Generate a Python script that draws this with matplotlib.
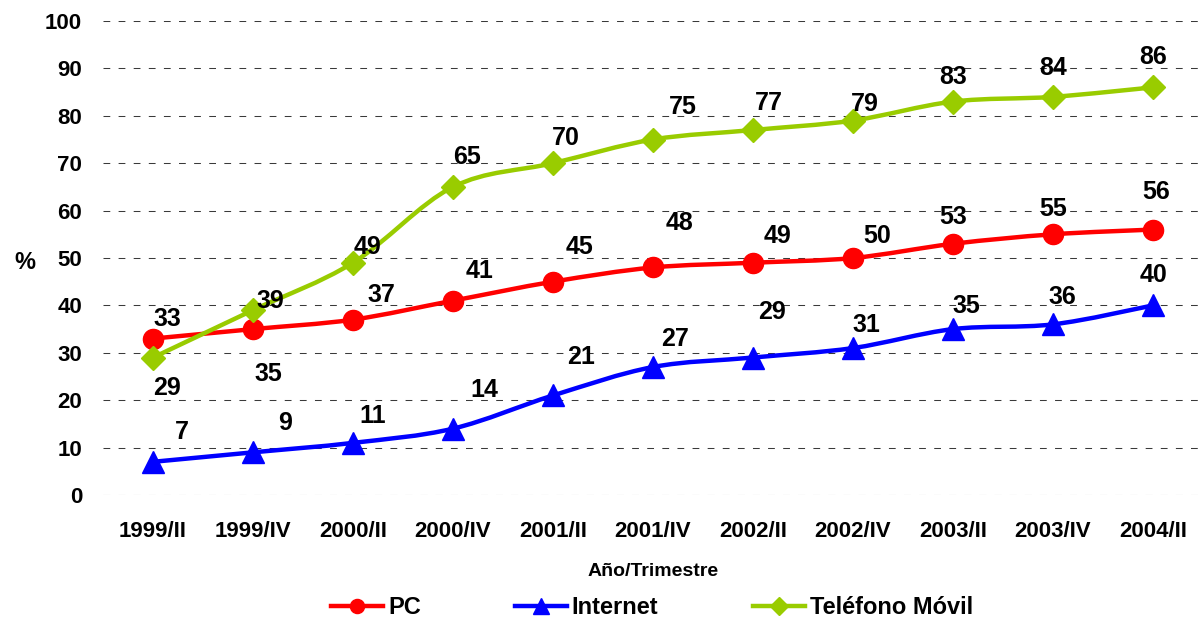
import matplotlib
matplotlib.use("Agg")
import matplotlib.pyplot as plt
from matplotlib.path import Path
from matplotlib.patches import PathPatch
from matplotlib.lines import Line2D

categories = ["1999/II", "1999/IV", "2000/II", "2000/IV", "2001/II", "2001/IV",
              "2002/II", "2002/IV", "2003/II", "2003/IV", "2004/II"]
pc = [33, 35, 37, 41, 45, 48, 49, 50, 53, 55, 56]
internet = [7, 9, 11, 14, 21, 27, 29, 31, 35, 36, 40]
movil = [29, 39, 49, 65, 70, 75, 77, 79, 83, 84, 86]

# label offsets in pixels (dx, dy-up)
pc_off = [(14, 20), (15, -45), (28, 25), (27, 30), (27, 35), (27, 44), (25, 27), (24, 22), (0, 27), (0, 25), (3, 38)]
movil_off = [(14, -30), (17, 9), (14, 16), (14, 30), (13, 25), (30, 33), (16, 27), (12, 17), (0, 25), (0, 29), (0, 30)]
int_off = [(29, 30), (32, 29), (20, 27), (31, 39), (28, 38), (22, 28), (19, 46), (13, 23), (13, 23), (9, 27), (0, 30)]

plt.rcParams['font.family'] = ['Liberation Sans', 'DejaVu Sans']
plt.rcParams['font.weight'] = 'bold'

W, H = 1204, 624
fig = plt.figure(figsize=(W / 100, H / 100), dpi=100)
ax = fig.add_axes([103 / W, 1 - 495 / H, 1100 / W, (495 - 21) / H])

x = list(range(len(categories)))


def smooth_path(xs, ys):
    """Excel-like smoothed line: cubic Bezier segments through the data points."""
    pts = list(zip(xs, ys))
    verts = [pts[0]]
    codes = [Path.MOVETO]
    n = len(pts)
    for i in range(n - 1):
        p0 = pts[max(i - 1, 0)]
        p1 = pts[i]
        p2 = pts[i + 1]
        p3 = pts[min(i + 2, n - 1)]
        c1 = (p1[0] + (p2[0] - p0[0]) / 6, p1[1] + (p2[1] - p0[1]) / 6)
        c2 = (p2[0] - (p3[0] - p1[0]) / 6, p2[1] - (p3[1] - p1[1]) / 6)
        verts += [c1, c2, p2]
        codes += [Path.CURVE4] * 3
    return Path(verts, codes)


series = [
    (pc, '#FF0000', 'o', 14.5, 'PC'),
    (internet, '#0000FF', '^', 16, 'Internet'),
    (movil, '#99CC00', 'D', 12.5, 'Teléfono Móvil'),
]
handles = []
for vals, col, mk, ms, lab in series:
    ax.add_patch(PathPatch(smooth_path(x, vals), facecolor='none', edgecolor=col, lw=3.2,
                           zorder=3, capstyle='round', joinstyle='round'))
    ax.plot(x, vals, linestyle='none', marker=mk, ms=ms, color=col, zorder=3.5)
    handles.append(Line2D([], [], color=col, lw=3.2, marker=mk, ms=ms * 0.7, label=lab))


def px(p):
    return p * 72 / 100


for vals, offs in [(pc, pc_off), (movil, movil_off), (internet, int_off)]:
    for xi, v, (dx, dy) in zip(x, vals, offs):
        ax.annotate(str(v), (xi, v), xytext=(px(dx), px(dy)), textcoords='offset points',
                    ha='center', va='center', fontsize=18, fontweight='bold', color='black', zorder=4)

ax.set_xlim(-0.5, 10.5)
ax.set_ylim(0, 100)
ax.set_yticks(range(0, 101, 10))
ax.set_xticks(x)
ax.set_xticklabels(categories, fontsize=16, fontweight='bold')
ax.tick_params(axis='both', length=0)
ax.tick_params(axis='y', pad=15, labelsize=16)
ax.tick_params(axis='x', pad=19)
for s in ax.spines.values():
    s.set_visible(False)
ax.yaxis.grid(True, linestyle=(0, (6.5, 8)), color='#3a3a3a', lw=0.75)
ax.set_axisbelow(True)

fig.text(25 / W, 1 - 262 / H, '%', fontsize=17, fontweight='bold', ha='center', va='center')
fig.text(653 / W, 1 - 571 / H, 'Año/Trimestre', fontsize=14, fontweight='bold', ha='center', va='center')

fig.legend(handles=handles, loc='center', bbox_to_anchor=(652 / W, 1 - 608 / H), ncol=3,
           frameon=False, columnspacing=4.0, handlelength=2.2, handletextpad=0.2,
           prop={'weight': 'bold', 'size': 17})

fig.savefig('out.png', dpi=100)
